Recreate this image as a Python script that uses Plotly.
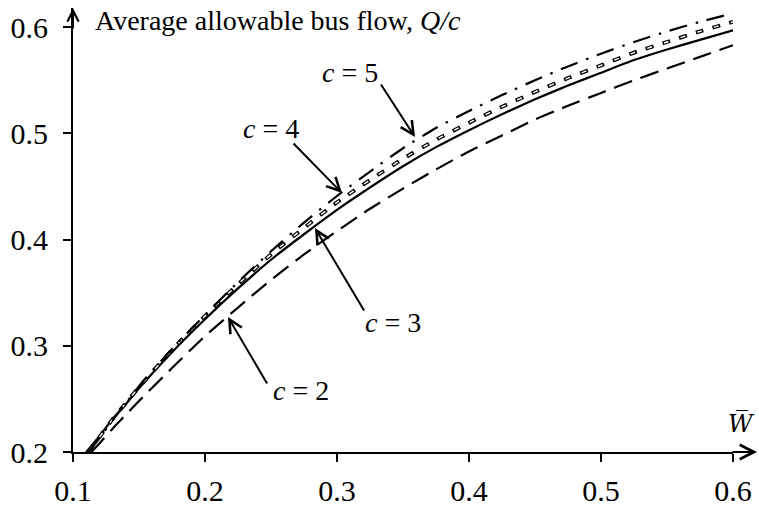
import plotly.graph_objects as go

# ---- data ----
c2_x = [0.114, 0.12, 0.13, 0.14, 0.15, 0.175, 0.2, 0.225, 0.25, 0.275, 0.3, 0.325, 0.35, 0.375, 0.4, 0.425, 0.45, 0.475, 0.5, 0.525, 0.55, 0.575, 0.6]
c2_y = [0.200, 0.208, 0.222, 0.235, 0.248, 0.279, 0.309, 0.336, 0.362, 0.386, 0.408, 0.429, 0.448, 0.466, 0.483, 0.498, 0.513, 0.526, 0.538, 0.550, 0.561, 0.572, 0.583]

c3_x = [0.110, 0.12, 0.13, 0.14, 0.15, 0.175, 0.2, 0.225, 0.25, 0.275, 0.3, 0.325, 0.35, 0.375, 0.4, 0.425, 0.45, 0.475, 0.5, 0.525, 0.55, 0.575, 0.6]
c3_y = [0.200, 0.215, 0.231, 0.245, 0.260, 0.294, 0.325, 0.354, 0.381, 0.405, 0.428, 0.449, 0.469, 0.487, 0.503, 0.518, 0.532, 0.545, 0.557, 0.569, 0.579, 0.588, 0.597]

c4_x = [0.1115, 0.12, 0.13, 0.14, 0.15, 0.175, 0.2, 0.225, 0.25, 0.275, 0.3, 0.325, 0.35, 0.375, 0.4, 0.425, 0.45, 0.475, 0.5, 0.525, 0.55, 0.575, 0.6]
c4_y = [0.200, 0.214, 0.231, 0.246, 0.261, 0.296, 0.328, 0.358, 0.386, 0.411, 0.435, 0.456, 0.476, 0.494, 0.510, 0.525, 0.539, 0.552, 0.564, 0.576, 0.586, 0.596, 0.605]

c5_x = [0.112, 0.12, 0.13, 0.14, 0.15, 0.175, 0.2, 0.225, 0.25, 0.275, 0.3, 0.325, 0.35, 0.375, 0.4, 0.425, 0.45, 0.475, 0.5, 0.525, 0.55, 0.575, 0.6]
c5_y = [0.200, 0.213, 0.230, 0.246, 0.262, 0.297, 0.329, 0.360, 0.389, 0.416, 0.441, 0.464, 0.486, 0.505, 0.521, 0.536, 0.550, 0.563, 0.575, 0.586, 0.596, 0.605, 0.613]

x_ticks = [0.1, 0.2, 0.3, 0.4, 0.5, 0.6]
x_ticklabels = ["0.1", "0.2", "0.3", "0.4", "0.5", "0.6"]
y_ticks = [0.2, 0.3, 0.4, 0.5, 0.6]
y_ticklabels = ["0.2", "0.3", "0.4", "0.5", "0.6"]

y_title = "Average allowable bus flow, <i>Q/c</i>"
x_title = "<i>W\u0305</i>"
curve_labels = ["<i>c</i> = 2", "<i>c</i> = 3", "<i>c</i> = 4", "<i>c</i> = 5"]

FONT = "Liberation Serif"
FS = 28
TFS = 30

fig = go.Figure()

def line(x, y, width, dash, color="black"):
    fig.add_trace(go.Scatter(x=x, y=y, mode="lines", cliponaxis=False,
                             line=dict(color=color, width=width, dash=dash, shape="spline", smoothing=0.6),
                             hoverinfo="skip", showlegend=False))

# c = 2 : long dashes
line(c2_x, c2_y, 2.2, "19px,9px")
# c = 3 : solid
line(c3_x, c3_y, 2.2, "solid")
# c = 4 : hollow (double) short dashes
line(c4_x, c4_y, 3.8, "8px,9.5px")
line(c4_x, c4_y, 1.4, "0px,1.5px,5px,11px", color="white")
# c = 5 : dash-dot
line(c5_x, c5_y, 2.2, "18px,9px,2.5px,9px")

ann = []
# axis arrows
ann.append(dict(x=0.1, y=1.0, xref="x", yref="paper", ax=0, ay=22, axref="pixel", ayref="pixel",
                showarrow=True, arrowhead=5, arrowsize=1.1, arrowwidth=2, arrowcolor="black", text=""))
ann.append(dict(x=1.0364, y=0.2, xref="paper", yref="y", ax=-26, ay=0,
                showarrow=True, arrowhead=5, arrowsize=1.4, arrowwidth=2, arrowcolor="black", text=""))

# curve pointer arrows (tip in data coords, tail offset in px)
pointers = [
    (0.2174, 0.3271, 40, 68),   # c=2
    (0.2833, 0.4108, 50, 84),   # c=3
    (0.3038, 0.4438, -50, -51), # c=4
    (0.3591, 0.4965, -35, -54), # c=5
]
for (tx, ty, axp, ayp) in pointers:
    ann.append(dict(x=tx, y=ty, xref="x", yref="y", ax=axp, ay=ayp, showarrow=True,
                    arrowhead=5, arrowsize=1.3, arrowwidth=2, arrowcolor="black", text=""))

def px2x(px):
    return 0.1 + (px - 73) / 1320.0

def py2y(py):
    return 0.2 + (452 - py) / 1062.5

label_pos = [(301, 390), (393, 322), (271, 128), (350, 72)]
for txt, (lx, ly) in zip(curve_labels, label_pos):
    ann.append(dict(x=px2x(lx), y=py2y(ly), xref="x", yref="y", text=txt, showarrow=False,
                    xanchor="center", yanchor="middle", font=dict(family=FONT, size=FS, color="black")))

ann.append(dict(x=px2x(93), y=py2y(20), xref="x", yref="y", text=y_title, showarrow=False,
                xanchor="left", yanchor="middle", font=dict(family=FONT, size=FS, color="black")))
ann.append(dict(x=(757 - 73) / 660.0, y=py2y(424), xref="paper", yref="y", text=x_title, showarrow=False,
                xanchor="right", yanchor="middle", font=dict(family="DejaVu Serif", size=24, color="black")))

fig.update_layout(
    width=759, height=506,
    margin=dict(l=73, r=26, t=8, b=54, pad=0, autoexpand=False),
    paper_bgcolor="white", plot_bgcolor="white",
    showlegend=False,
    annotations=ann,
    font=dict(family=FONT, size=FS, color="black"),
    xaxis=dict(range=[0.1, 0.6], tickvals=x_ticks, ticktext=x_ticklabels, showgrid=False, zeroline=False,
               showline=True, linecolor="black", linewidth=2, ticks="outside", ticklen=8, tickwidth=2,
               tickcolor="black", ticklabelstandoff=3, automargin=False, tickfont=dict(family=FONT, size=TFS)),
    yaxis=dict(range=[0.2, 0.618], tickvals=y_ticks, ticktext=y_ticklabels, showgrid=False, zeroline=False,
               showline=True, linecolor="black", linewidth=2, ticks="outside", ticklen=8, tickwidth=2,
               tickcolor="black", ticklabelstandoff=9, automargin=False, tickfont=dict(family=FONT, size=TFS)),
)

fig.write_html("out.html", config={"displayModeBar": False},
               post_script="document.body.style.margin='0';document.body.style.overflow='hidden';")
